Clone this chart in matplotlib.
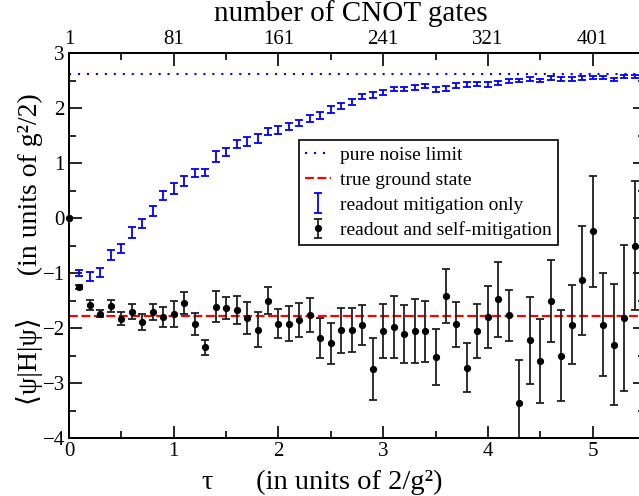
import matplotlib
matplotlib.use("Agg")
import matplotlib.pyplot as plt
from matplotlib.ticker import MultipleLocator

plt.rcParams['font.family'] = ['Liberation Serif', 'DejaVu Sans']

# ---- data ----
tau_self = [0.0, 0.1, 0.2, 0.3, 0.4, 0.5, 0.6, 0.7, 0.8, 0.9,
            1.0, 1.1, 1.2, 1.3, 1.4, 1.5, 1.6, 1.7, 1.8, 1.9,
            2.0, 2.1, 2.2, 2.3, 2.4, 2.5, 2.6, 2.7, 2.8, 2.9,
            3.0, 3.1, 3.2, 3.3, 3.4, 3.5, 3.6, 3.7, 3.8, 3.9,
            4.0, 4.1, 4.2, 4.3, 4.4, 4.5, 4.6, 4.7, 4.8, 4.9,
            5.0, 5.1, 5.2, 5.3, 5.4]
E_self = [0.0, -1.255, -1.58, -1.74, -1.595, -1.83, -1.70, -1.89, -1.71, -1.80,
          -1.75, -1.54, -1.92, -2.35, -1.61, -1.63, -1.67, -1.81, -2.03, -1.50,
          -1.92, -1.92, -1.85, -1.76, -2.18, -2.28, -2.04, -2.04, -1.95, -2.75,
          -2.06, -1.98, -2.11, -2.05, -2.06, -2.52, -1.41, -1.93, -2.72, -2.05,
          -1.80, -1.48, -1.77, -3.36, -2.22, -2.60, -1.51, -2.50, -1.94, -1.13,
          -0.24, -1.94, -2.30, -1.82, -0.50]
err_self = [0.0, 0.03, 0.085, 0.06, 0.11, 0.115, 0.14, 0.14, 0.15, 0.175,
            0.24, 0.20, 0.20, 0.14, 0.28, 0.20, 0.25, 0.29, 0.32, 0.24,
            0.26, 0.32, 0.31, 0.31, 0.37, 0.375, 0.41, 0.40, 0.36, 0.56,
            0.49, 0.56, 0.52, 0.58, 0.55, 0.51, 0.49, 0.41, 0.45, 0.49,
            0.57, 0.68, 0.46, 0.77, 0.79, 0.77, 0.75, 0.83, 0.72, 0.99,
            1.01, 0.94, 1.10, 1.33, 1.18]

tau_ro = [0.1, 0.2, 0.3, 0.4, 0.5, 0.6, 0.7, 0.8, 0.9,
          1.0, 1.1, 1.2, 1.3, 1.4, 1.5, 1.6, 1.7, 1.8, 1.9,
          2.0, 2.1, 2.2, 2.3, 2.4, 2.5, 2.6, 2.7, 2.8, 2.9,
          3.0, 3.1, 3.2, 3.3, 3.4, 3.5, 3.6, 3.7, 3.8, 3.9,
          4.0, 4.1, 4.2, 4.3, 4.4, 4.5, 4.6, 4.7, 4.8, 4.9,
          5.0, 5.1, 5.2, 5.3, 5.4]
E_ro = [-1.00, -1.06, -0.995, -0.67, -0.55, -0.27, -0.10, 0.13, 0.41,
        0.545, 0.665, 0.82, 0.83, 1.11, 1.205, 1.34, 1.39, 1.45, 1.57,
        1.60, 1.67, 1.73, 1.81, 1.865, 1.97, 2.04, 2.11, 2.205, 2.24,
        2.28, 2.345, 2.345, 2.38, 2.40, 2.33, 2.36, 2.41, 2.425, 2.435,
        2.43, 2.455, 2.485, 2.50, 2.525, 2.50, 2.545, 2.525, 2.53, 2.545,
        2.555, 2.56, 2.52, 2.57, 2.57]
err_ro = [0.055, 0.08, 0.085, 0.095, 0.085, 0.10, 0.09, 0.09, 0.09,
          0.10, 0.09, 0.08, 0.06, 0.10, 0.075, 0.07, 0.08, 0.08, 0.06,
          0.065, 0.065, 0.06, 0.06, 0.06, 0.06, 0.055, 0.055, 0.05, 0.05,
          0.05, 0.045, 0.045, 0.045, 0.045, 0.045, 0.045, 0.04, 0.04, 0.04,
          0.04, 0.04, 0.035, 0.03, 0.03, 0.03, 0.03, 0.03, 0.03, 0.03,
          0.03, 0.03, 0.03, 0.03, 0.03]

noise_limit = 2.62
ground_state = -1.79

tau_ticks = [0, 1, 2, 3, 4, 5]
cnot_labels = ['1', '81', '161', '241', '321', '401']

# ---- figure ----
fig = plt.figure(figsize=(6.39, 4.96), dpi=100)
ax = fig.add_axes([69/639, 58/496, 576/639, 385/496])

ax.axhline(noise_limit, color='#0000ff', lw=1.5, linestyle=(0, (1, 3.3)),
           label='pure noise limit', zorder=1)
ax.axhline(ground_state, color='#ff0000', lw=1.6, linestyle=(0, (4, 1.6)),
           label='true ground state', zorder=1)
ax.errorbar(tau_ro, E_ro, yerr=err_ro, fmt='none', ecolor='#0000ff',
            elinewidth=1.3, capsize=2.8, capthick=1.3,
            label='readout mitigation only', zorder=3)
ax.errorbar(tau_self, E_self, yerr=err_self, fmt='o', color='black',
            ecolor='#202020', markersize=4.2, elinewidth=1.3, capsize=3.0,
            capthick=1.3, label='readout and self-mitigation', zorder=4)
# first point sits on the left spine; draw it unclipped
ax.plot(tau_self[:1], E_self[:1], 'o', color='black', markersize=4.2,
        clip_on=False, zorder=5)

ax.set_xlim(0, 5.5)
ax.set_ylim(-4, 3)
ax.xaxis.set_major_locator(MultipleLocator(1))
ax.xaxis.set_minor_locator(MultipleLocator(0.5))
ax.yaxis.set_major_locator(MultipleLocator(1))
ax.yaxis.set_minor_locator(MultipleLocator(0.5))
ax.tick_params(which='both', direction='in', top=False, right=True,
               width=1.2, labelsize=15)
ax.tick_params(which='major', length=9)
ax.tick_params(which='minor', length=5)
ax.tick_params(axis='x', pad=3)
ax.tick_params(axis='y', pad=3)
for s in ax.spines.values():
    s.set_linewidth(1.3)

ax.set_xlabel('τ      (in units of 2/g²)', fontsize=20.5)
ax.xaxis.set_label_coords(0.44, -0.082)
ax.set_ylabel('⟨ψ|H|ψ⟩      (in units of g²/2)', fontsize=20)
ax.yaxis.set_label_coords(-0.046, 0.49)

ax2 = ax.twiny()
ax2.set_xlim(ax.get_xlim())
ax2.set_xticks(tau_ticks)
ax2.set_xticklabels(cnot_labels)
ax2.xaxis.set_minor_locator(MultipleLocator(0.5))
ax2.tick_params(which='both', direction='in', width=1.2, labelsize=15, pad=3)
ax2.tick_params(which='major', length=9)
ax2.tick_params(which='minor', length=5)
ax2.set_xlabel('number of CNOT gates', fontsize=21)
ax2.xaxis.set_label_coords(0.490, 1.082)
for s in ax2.spines.values():
    s.set_linewidth(1.3)

leg = ax.legend(loc='upper left', bbox_to_anchor=(0.40, 0.773),
                fontsize=14, frameon=True, fancybox=False, edgecolor='black',
                framealpha=1, handlelength=1.3, handletextpad=0.5,
                borderpad=0.3, labelspacing=0.38, borderaxespad=0)
leg.get_frame().set_linewidth(1.2)

fig.savefig('out.png', dpi=100)
